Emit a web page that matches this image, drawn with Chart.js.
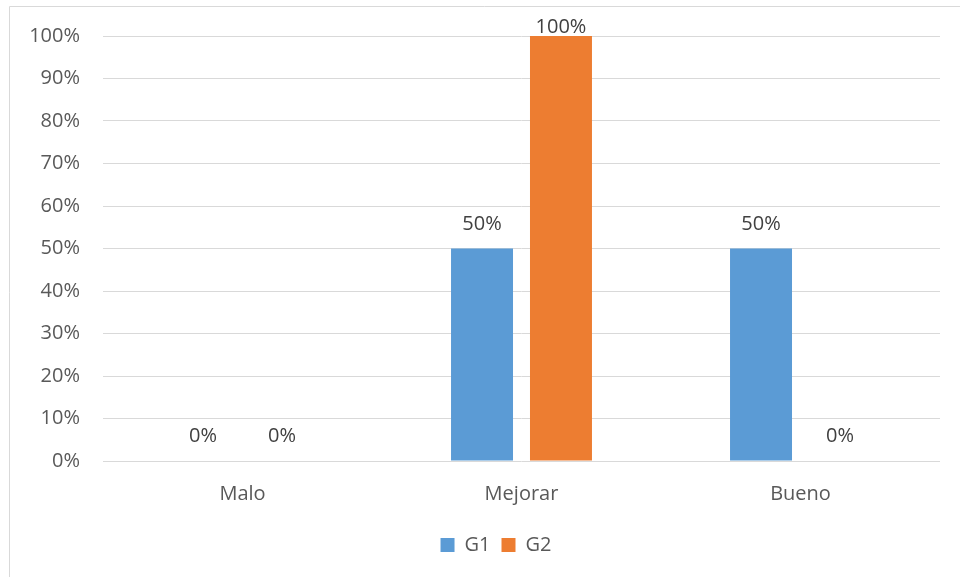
<!DOCTYPE html>
<html>
<head>
<meta charset="utf-8">
<script src="https://cdn.jsdelivr.net/npm/chart.js@4"></script>
<style>
  html, body { margin: 0; padding: 0; background: #fff; }
  #wrap { width: 960px; height: 577px; }
</style>
</head>
<body>
<div id="wrap"><canvas id="myChart" width="960" height="577"></canvas></div>
<script>
const categories = ['Malo', 'Mejorar', 'Bueno'];
const g1Values = [0, 0.5, 0.5];
const g2Values = [0, 1, 0];
const seriesNames = ['G1', 'G2'];

const FONT = '"Open Sans", "Liberation Sans", sans-serif';

// light frame like the Excel chart border (only top and left visible)
const frame = {
    id: 'frame',
    beforeDraw(chart) {
        const c = chart.ctx;
        c.save();
        c.strokeStyle = '#d9d9d9';
        c.lineWidth = 1;
        c.beginPath();
        c.moveTo(9.5, 700);
        c.lineTo(9.5, 6.5);
        c.lineTo(960, 6.5);
        c.stroke();
        c.restore();
    }
};

// the original legend sits a bit right of the canvas centre
const legendShift = {
    id: 'legendShift',
    afterLayout(chart) {
        chart.legend.left += 26;
        chart.legend.right += 26;
    }
};

// value labels above each bar
const valueLabels = {
    id: 'valueLabels',
    afterDatasetsDraw(chart) {
        const c = chart.ctx;
        c.save();
        c.font = '20px ' + FONT;
        c.fillStyle = '#404040';
        c.textAlign = 'center';
        c.textBaseline = 'alphabetic';
        chart.data.datasets.forEach((ds, i) => {
            chart.getDatasetMeta(i).data.forEach((bar, j) => {
                let y = Math.max(bar.y - 19, 33);
                c.fillText(Math.round(ds.data[j] * 100) + '%', bar.x, y);
            });
        });
        c.restore();
    }
};

const ctx = document.getElementById('myChart').getContext('2d');
const myChart = new Chart(ctx, {
    type: 'bar',
    data: {
        labels: categories,
        datasets: [{
            label: seriesNames[0],
            data: g1Values,
            backgroundColor: '#5B9BD5',
            categoryPercentage: 0.566,
            barPercentage: 0.785
        }, {
            label: seriesNames[1],
            data: g2Values,
            backgroundColor: '#ED7D31',
            categoryPercentage: 0.566,
            barPercentage: 0.785
        }]
    },
    options: {
        responsive: false,
        animation: false,
        layout: {
            padding: { left: 0, right: 20, top: 36, bottom: 12 }
        },
        plugins: {
            tooltip: { enabled: false },
            legend: {
                position: 'bottom',
                labels: {
                    boxWidth: 14,
                    boxHeight: 14,
                    padding: 11,
                    color: '#595959',
                    font: { family: FONT, size: 20 }
                }
            }
        },
        scales: {
            x: {
                grid: { display: false, drawTicks: false },
                border: { display: false },
                ticks: {
                    color: '#595959',
                    padding: 21,
                    font: { family: FONT, size: 20 }
                },
                afterFit(axis) { axis.height = 63; }
            },
            y: {
                min: 0,
                max: 1,
                grid: { color: '#d9d9d9', drawTicks: false },
                border: { display: false },
                ticks: {
                    stepSize: 0.1,
                    padding: 23,
                    color: '#595959',
                    font: { family: FONT, size: 20 },
                    callback: v => Math.round(v * 100) + '%'
                },
                afterFit(axis) { axis.width = 103; }
            }
        }
    },
    plugins: [frame, legendShift, valueLabels]
});
</script>
</body>
</html>
